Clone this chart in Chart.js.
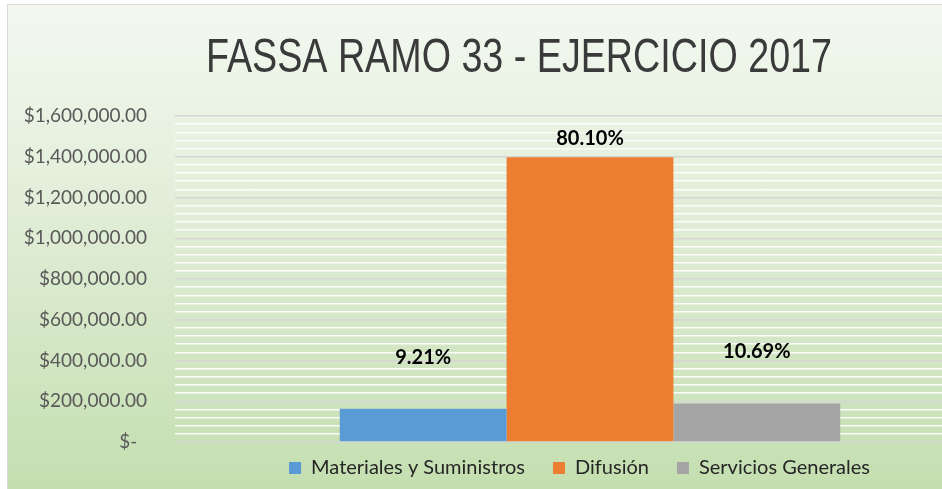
<!DOCTYPE html>
<html>
<head>
<meta charset="utf-8">
<script src="https://cdn.jsdelivr.net/npm/chart.js@4.4.1/dist/chart.umd.min.js"></script>
<style>
  html, body { margin: 0; padding: 0; background: #fff; overflow: hidden; width: 942px; height: 489px; }
  #frame {
    position: absolute; left: 7px; top: 4px; width: 1020px; height: 495px;
    border-left: 1px solid #d9d9d9; border-top: 1px solid #d9d9d9;
    background: linear-gradient(to bottom, #f3f8f0 0%, #e2eed9 40%, #c3deae 100%);
  }
  canvas { display: block; }
</style>
</head>
<body>
<div id="frame"><canvas id="fassaChart" width="1020" height="495"></canvas></div>
<script>
const titleText = 'FASSA RAMO 33 - EJERCICIO 2017';
const categories = ['FASSA 2017'];
const seriesNames = ['Materiales y Suministros', 'Difusión', 'Servicios Generales'];
const seriesValues = [[163000], [1397000], [189000]];
const sharePct = ['9.21%', '80.10%', '10.69%'];
const barColors = ['#5b9bd5', '#ed7d31', '#a5a5a5'];
const yMin = 0;
const yMax = 1600000;
const yMajorStep = 200000;
const yMinorStep = 40000;

// how far each % label sits above its bar (moved by hand in the original)
const labelLift = [51, 19, 52];

function money(v) {
  if (v === 0) return '$-  ';
  return '$' + v.toLocaleString('en-US', { minimumFractionDigits: 2, maximumFractionDigits: 2 });
}

const squeezedTitle = {
  id: 'squeezedTitle',
  afterDraw(chart) {
    const ctx = chart.ctx;
    ctx.save();
    ctx.font = '49px "Liberation Sans Narrow", "Liberation Sans", sans-serif';
    const w = ctx.measureText(titleText).width;
    ctx.translate(chart.width / 2 + 1, 67);
    ctx.scale(626 / w, 1);
    ctx.fillStyle = '#3a3a3a';
    ctx.textAlign = 'center';
    ctx.textBaseline = 'alphabetic';
    ctx.fillText(titleText, 0, 0);
    ctx.restore();
  }
};

const shareLabels = {
  id: 'shareLabels',
  afterDatasetsDraw(chart) {
    const ctx = chart.ctx;
    ctx.save();
    ctx.font = 'bold 20px Lato';
    ctx.fillStyle = '#000';
    ctx.textAlign = 'center';
    ctx.textBaseline = 'middle';
    chart.data.datasets.forEach((ds, i) => {
      const bar = chart.getDatasetMeta(i).data[0];
      ctx.fillText(sharePct[i], bar.x, bar.y - labelLift[i]);
    });
    ctx.restore();
  }
};

// legend sits under the plot area in the original, not under the whole chart
const legendShift = {
  id: 'legendShift',
  afterLayout(chart) {
    const lg = chart.legend;
    lg.left += 73;
    lg.right += 73;
    lg.top -= 12;
    lg.bottom -= 12;
  }
};

new Chart(document.getElementById('fassaChart'), {
  type: 'bar',
  data: {
    labels: categories,
    datasets: seriesNames.map((name, i) => ({
      label: name,
      data: seriesValues[i],
      backgroundColor: barColors[i],
      borderWidth: 0
    }))
  },
  options: {
    responsive: false,
    animation: false,
    layout: { padding: { top: 111, right: 23, bottom: 0, left: 0 } },
    datasets: { bar: { categoryPercentage: 0.603, barPercentage: 1 } },
    scales: {
      x: { display: false },
      y: {
        min: yMin,
        max: yMax,
        afterFit: s => { s.width = 167; },
        border: { display: false },
        grid: {
          drawTicks: false,
          color: c => c.tick.value % yMajorStep === 0 ? '#d6d6d6' : 'rgba(255,255,255,0.9)',
          lineWidth: 1.5
        },
        ticks: {
          stepSize: yMinorStep,
          autoSkip: false,
          padding: 28,
          color: '#595959',
          font: { family: 'Lato', size: 19 },
          callback: v => v % yMajorStep === 0 ? money(v) : ''
        }
      }
    },
    plugins: {
      legend: {
        position: 'bottom',
        labels: {
          boxWidth: 12,
          boxHeight: 12,
          padding: 28,
          color: '#262626',
          font: { family: 'Lato', size: 20 }
        }
      },
      tooltip: { enabled: false }
    }
  },
  plugins: [squeezedTitle, shareLabels, legendShift]
});
</script>
</body>
</html>
